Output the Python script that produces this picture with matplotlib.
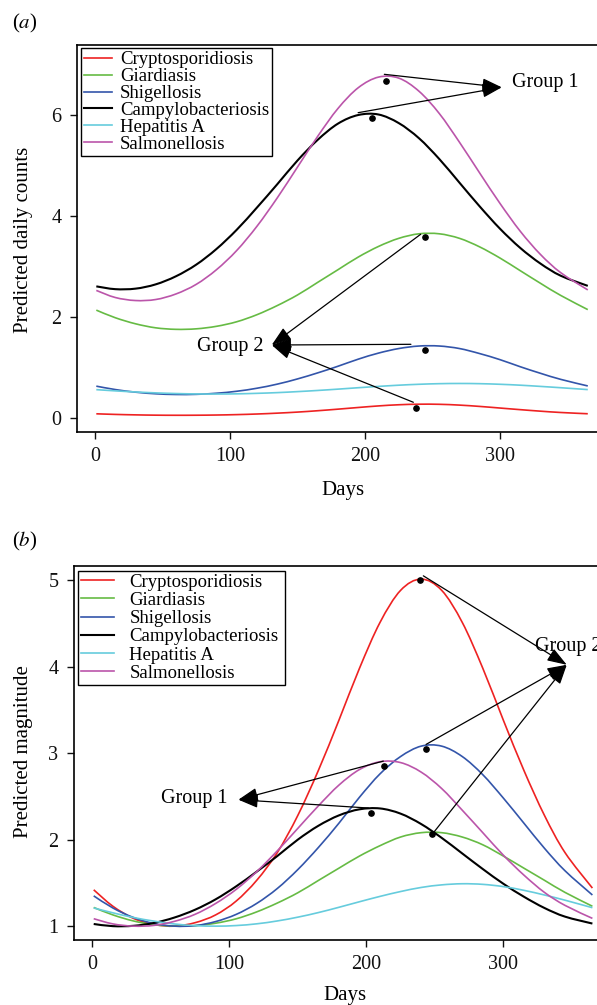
import matplotlib
matplotlib.use("Agg")
import matplotlib.pyplot as plt
from matplotlib.path import Path
from matplotlib.patches import PathPatch
from matplotlib.lines import Line2D

plt.rcParams['font.family'] = ['Liberation Serif', 'DejaVu Serif']
plt.rcParams['mathtext.fontset'] = 'stix'

days = [1, 15, 30, 45, 60, 75, 90, 105, 120, 135, 150, 165, 180,
        195, 210, 225, 240, 255, 270, 285, 300, 315, 330, 345, 365]

diseases = ['Cryptosporidiosis', 'Giardiasis', 'Shigellosis',
            'Campylobacteriosis', 'Hepatitis A', 'Salmonellosis']
colors = ['#ee2222', '#66bb44', '#3355aa', '#000000', '#66ccdd', '#bb55aa']

# (a) predicted daily counts
crypto_a = [0.089, 0.077, 0.068, 0.062, 0.060, 0.061, 0.065, 0.073, 0.085, 0.102, 0.123, 0.150, 0.181,
            0.214, 0.245, 0.268, 0.279, 0.277, 0.261, 0.235, 0.203, 0.171, 0.141, 0.115, 0.090]
giardia_a = [2.14, 1.99, 1.87, 1.79, 1.76, 1.77, 1.82, 1.91, 2.05, 2.23, 2.44, 2.69, 2.94,
             3.19, 3.40, 3.56, 3.65, 3.65, 3.56, 3.39, 3.17, 2.92, 2.67, 2.43, 2.15]
shigella_a = [0.636, 0.569, 0.517, 0.485, 0.471, 0.474, 0.496, 0.535, 0.595, 0.676, 0.779, 0.899, 1.03,
              1.17, 1.29, 1.38, 1.43, 1.43, 1.38, 1.28, 1.16, 1.02, 0.89, 0.77, 0.64]
campylo_a = [2.61, 2.555, 2.565, 2.65, 2.81, 3.04, 3.35, 3.73, 4.17, 4.63, 5.10, 5.51, 5.83,
             6.00, 6.01, 5.84, 5.54, 5.13, 4.66, 4.19, 3.75, 3.37, 3.06, 2.82, 2.62]
hepa_a = [0.567, 0.543, 0.521, 0.503, 0.490, 0.482, 0.480, 0.484, 0.494, 0.508, 0.528, 0.551, 0.577,
          0.605, 0.631, 0.655, 0.673, 0.685, 0.689, 0.685, 0.673, 0.655, 0.631, 0.605, 0.568]
salmon_a = [2.53, 2.39, 2.33, 2.35, 2.46, 2.65, 2.94, 3.32, 3.80, 4.36, 4.97, 5.58, 6.13,
            6.54, 6.75, 6.73, 6.47, 6.03, 5.46, 4.85, 4.25, 3.70, 3.24, 2.88, 2.54]

# (b) predicted magnitude
crypto_b = [1.42, 1.23, 1.09, 1.02, 1.00, 1.04, 1.13, 1.29, 1.53, 1.85, 2.28, 2.80, 3.38,
            3.98, 4.51, 4.88, 5.01, 4.88, 4.51, 3.98, 3.38, 2.80, 2.28, 1.85, 1.44]
giardia_b = [1.216, 1.13, 1.06, 1.017, 1.00, 1.006, 1.034, 1.085, 1.165, 1.267, 1.386, 1.528, 1.67,
             1.81, 1.93, 2.03, 2.08, 2.08, 2.03, 1.94, 1.81, 1.67, 1.53, 1.39, 1.23]
shigella_b = [1.35, 1.21, 1.10, 1.03, 1.00, 1.006, 1.053, 1.136, 1.263, 1.435, 1.654, 1.909, 2.19,
              2.49, 2.76, 2.96, 3.08, 3.08, 2.96, 2.75, 2.48, 2.19, 1.90, 1.64, 1.36]
campylo_b = [1.025, 1.00, 1.004, 1.037, 1.10, 1.19, 1.31, 1.46, 1.63, 1.81, 2.00, 2.16, 2.28,
             2.35, 2.36, 2.30, 2.18, 2.02, 1.84, 1.66, 1.49, 1.34, 1.21, 1.11, 1.03]
hepa_b = [1.21, 1.154, 1.10, 1.058, 1.025, 1.006, 1.00, 1.007, 1.027, 1.06, 1.104, 1.157, 1.218,
          1.282, 1.344, 1.40, 1.447, 1.477, 1.49, 1.483, 1.457, 1.414, 1.36, 1.30, 1.213]
salmon_b = [1.086, 1.026, 1.00, 1.009, 1.056, 1.137, 1.262, 1.425, 1.63, 1.87, 2.13, 2.39, 2.63,
            2.81, 2.90, 2.89, 2.78, 2.59, 2.34, 2.08, 1.82, 1.59, 1.39, 1.24, 1.09]

# observed peaks (dots)
dots_a_day = [215.4, 205.5, 244.7, 244.7, 237.4]
dots_a_val = [6.67, 5.94, 3.58, 1.35, 0.20]
dots_b_day = [239.0, 243.5, 212.8, 203.4, 248.0]
dots_b_val = [5.00, 3.05, 2.85, 2.31, 2.06]

# arrows: (start day, start value) -> tip
g1_a_tip = (301.3, 6.548)
g1_a_from = [(214.3, 6.805), (194.9, 6.046)]
g2_a_tip = (130.9, 1.45)
g2_a_from = [(234.0, 1.464), (241.2, 3.64), (235.8, 0.317)]
g1_b_tip = (106.6, 2.461)
g1_b_from = [(212.4, 2.907), (201.5, 2.365)]
g2_b_tip = (346.3, 4.02)
g2_b_from = [(241.6, 5.048), (243.6, 3.10), (249.4, 2.088)]

series_a = [crypto_a, giardia_a, shigella_a, campylo_a, hepa_a, salmon_a]
series_b = [crypto_b, giardia_b, shigella_b, campylo_b, hepa_b, salmon_b]

fig = plt.figure(figsize=(5.97, 10.05), dpi=100)
W, H = 597.0, 1005.0
ax_a = fig.add_axes([76.6 / W, 1 - 431.7 / H, 530.9 / W, 386.7 / H])
ax_b = fig.add_axes([73.7 / W, 1 - 940.0 / H, 538.7 / W, 374.3 / H])

arrow_kw = dict(arrowstyle='-|>,head_length=0.8,head_width=0.28', color='k',
                lw=0.9, shrinkA=0, shrinkB=0, mutation_scale=15)


def smooth_path(xs, ys):
    # Catmull-Rom through the read points, drawn as cubic Bezier segments
    pts = list(zip(xs, ys))
    verts = [pts[0]]
    codes = [Path.MOVETO]
    n = len(pts)
    for i in range(n - 1):
        p0 = pts[i - 1] if i > 0 else pts[i]
        p1 = pts[i]
        p2 = pts[i + 1]
        p3 = pts[i + 2] if i + 2 < n else pts[i + 1]
        c1 = (p1[0] + (p2[0] - p0[0]) / 6.0, p1[1] + (p2[1] - p0[1]) / 6.0)
        c2 = (p2[0] - (p3[0] - p1[0]) / 6.0, p2[1] - (p3[1] - p1[1]) / 6.0)
        verts += [c1, c2, p2]
        codes += [Path.CURVE4] * 3
    return Path(verts, codes)


def draw_panel(ax, series, dots_x, dots_y, ylim, yticks):
    handles = []
    for vals, name, c in zip(series, diseases, colors):
        lw = 1.5 if c == '#000000' else 1.2
        ax.add_patch(PathPatch(smooth_path(days, vals), fc='none', ec=c, lw=lw))
        handles.append(Line2D([], [], color=c, lw=lw, label=name))
    ax.plot(dots_x, dots_y, 'o', color='k', ms=3.8, zorder=5)
    ax.set_xlim(-13.6, 379.6)
    ax.set_ylim(*ylim)
    ax.set_xticks([0, 100, 200, 300])
    ax.set_yticks(yticks)
    ax.tick_params(direction='out', length=5, width=1, labelsize=14.5, pad=6, colors='#111111')
    for s in ax.spines.values():
        s.set_linewidth(1.2)
    return handles


def arrows(ax, tip, starts):
    for s in starts:
        ax.annotate('', xy=tip, xytext=s, arrowprops=arrow_kw, annotation_clip=False)


handles_a = draw_panel(ax_a, series_a, dots_a_day, dots_a_val, (-0.265, 7.385), [0, 2, 4, 6])
handles_b = draw_panel(ax_b, series_b, dots_b_day, dots_b_val, (0.84, 5.165), [1, 2, 3, 4, 5])

arrows(ax_a, g1_a_tip, g1_a_from)
arrows(ax_a, g2_a_tip, g2_a_from)
arrows(ax_b, g1_b_tip, g1_b_from)
arrows(ax_b, g2_b_tip, g2_b_from)

ax_a.text(308.9, 6.647, 'Group 1', fontsize=14.5, ha='left', va='center')
ax_a.text(124.7, 1.416, 'Group 2', fontsize=14.5, ha='right', va='center')
ax_b.text(98.5, 2.48, 'Group 1', fontsize=14.5, ha='right', va='center')
ax_b.text(323.1, 4.23, 'Group 2', fontsize=14.5, ha='left', va='center', clip_on=False)

leg_a = ax_a.legend(handles=handles_a, loc='upper left',
                    bbox_to_anchor=(81 / W, 1 - 48.3 / H, 191.3 / W, 0),
                    bbox_transform=fig.transFigure, mode='expand', borderaxespad=0,
                    fontsize=13.5, handlelength=1.48, handletextpad=0.44, borderpad=0.15,
                    labelspacing=-0.01, fancybox=False, edgecolor='k', framealpha=1)
leg_a.get_frame().set_linewidth(1.0)
leg_b = ax_b.legend(handles=handles_b, loc='upper left',
                    bbox_to_anchor=(78.3 / W, 1 - 570.7 / H, 206.7 / W, 0),
                    bbox_transform=fig.transFigure, mode='expand', borderaxespad=0,
                    fontsize=13.5, handlelength=1.73, handletextpad=0.85, borderpad=0.15,
                    labelspacing=0.06, fancybox=False, edgecolor='k', framealpha=1)
leg_b.get_frame().set_linewidth(1.0)

fig.text(24 / W, 1 - 240 / H, 'Predicted daily counts', rotation=90, fontsize=15,
         ha='center', va='center')
fig.text(343 / W, 1 - 490 / H, 'Days', fontsize=15, ha='center', va='center')
fig.text(24 / W, 1 - 752 / H, 'Predicted magnitude', rotation=90, fontsize=15,
         ha='center', va='center')
fig.text(345 / W, 1 - 995 / H, 'Days', fontsize=15, ha='center', va='center')

fig.text(11.5 / W, 1 - 23 / H, '($a$)', fontsize=15, ha='left', va='center')
fig.text(11.5 / W, 1 - 541.7 / H, '($b$)', fontsize=15, ha='left', va='center')

fig.savefig('out.png', dpi=100)
